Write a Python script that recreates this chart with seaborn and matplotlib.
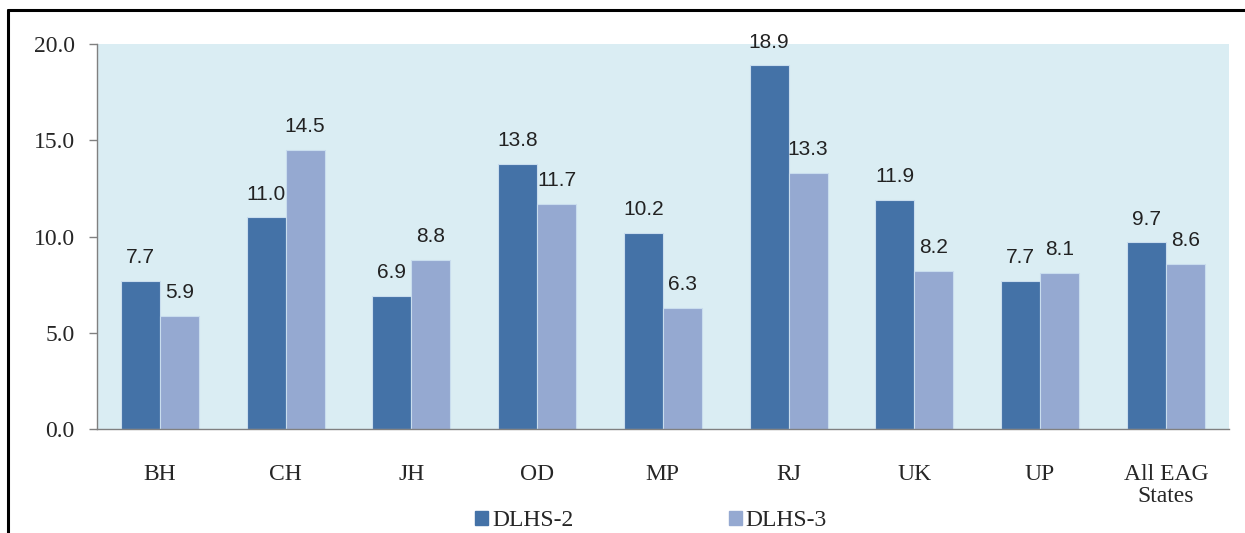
import pandas as pd
import seaborn as sns
import matplotlib.pyplot as plt
from matplotlib.patches import Rectangle
from matplotlib.lines import Line2D

# values
states = ['BH', 'CH', 'JH', 'OD', 'MP', 'RJ', 'UK', 'UP', 'All EAG\nStates']
dlhs2 = [7.7, 11.0, 6.9, 13.8, 10.2, 18.9, 11.9, 7.7, 9.7]
dlhs3 = [5.9, 14.5, 8.8, 11.7, 6.3, 13.3, 8.2, 8.1, 8.6]
yticks = [0, 5, 10, 15, 20]

df = pd.DataFrame({
    'state': states * 2,
    'value': dlhs2 + dlhs3,
    'survey': ['DLHS-2'] * len(states) + ['DLHS-3'] * len(states),
})

sns.set_style('white')
plt.rcParams['font.family'] = ['Liberation Serif', 'DejaVu Serif']

dark, light = '#4472A7', '#95A9D1'

fig = plt.figure(figsize=(12.45, 5.33), dpi=100)
ax = fig.add_axes([0.0779, 0.195, 0.909, 0.722])
ax.set_facecolor('#DAEDF3')

sns.barplot(data=df, x='state', y='value', hue='survey',
            palette=[dark, light], saturation=1, width=0.62,
            edgecolor='#C9DDEE', linewidth=0.8, ax=ax, legend=False)

# value labels in a plain sans font, like the original
for c in ax.containers:
    ax.bar_label(c, fmt='%.1f', padding=10, fontsize=15,
                 family=['Liberation Sans', 'DejaVu Sans'], color='#222222')

ax.set_ylim(0, 20)
ax.set_xlim(-0.5, len(states) - 0.5)
ax.set_yticks(yticks)
ax.set_yticklabels([f'{t:.1f}' for t in yticks], fontsize=17)
ax.set_xticks(range(len(states)))
ax.set_xticklabels(states, fontsize=17, linespacing=1.05)
ax.tick_params(axis='x', which='major', length=0, pad=25)
ax.set_xticks([i - 0.5 for i in range(len(states) + 1)], minor=True)
ax.tick_params(axis='x', which='minor', length=7, color='#808080', width=1, direction='out')
ax.tick_params(axis='y', length=6, color='#808080', width=1, direction='out', left=True, pad=10)
ax.set_xlabel('')
ax.set_ylabel('')
for s in ['top', 'right']:
    ax.spines[s].set_visible(False)
for s in ['left', 'bottom']:
    ax.spines[s].set_color('#808080')
    ax.spines[s].set_linewidth(1)

handles = [Rectangle((0, 0), 1, 1, color=dark), Rectangle((0, 0), 1, 1, color=light)]
fig.legend(handles, ['DLHS-2', 'DLHS-3'], loc='center', bbox_to_anchor=(0.523, 0.023),
           ncol=2, frameon=False, prop={'family': ['Liberation Serif', 'DejaVu Serif'], 'size': 17},
           handlelength=0.55, handleheight=0.55,
           handletextpad=0.15, columnspacing=6.6, borderpad=0)

# outer frame (cut off at right and bottom in the reference)
fig.add_artist(Line2D([0.0064, 0.0064], [0, 0.981], color='black', lw=2.2, transform=fig.transFigure))
fig.add_artist(Line2D([0.0064, 1.0], [0.981, 0.981], color='black', lw=2.2, transform=fig.transFigure))

fig.savefig('out.png', dpi=100)
